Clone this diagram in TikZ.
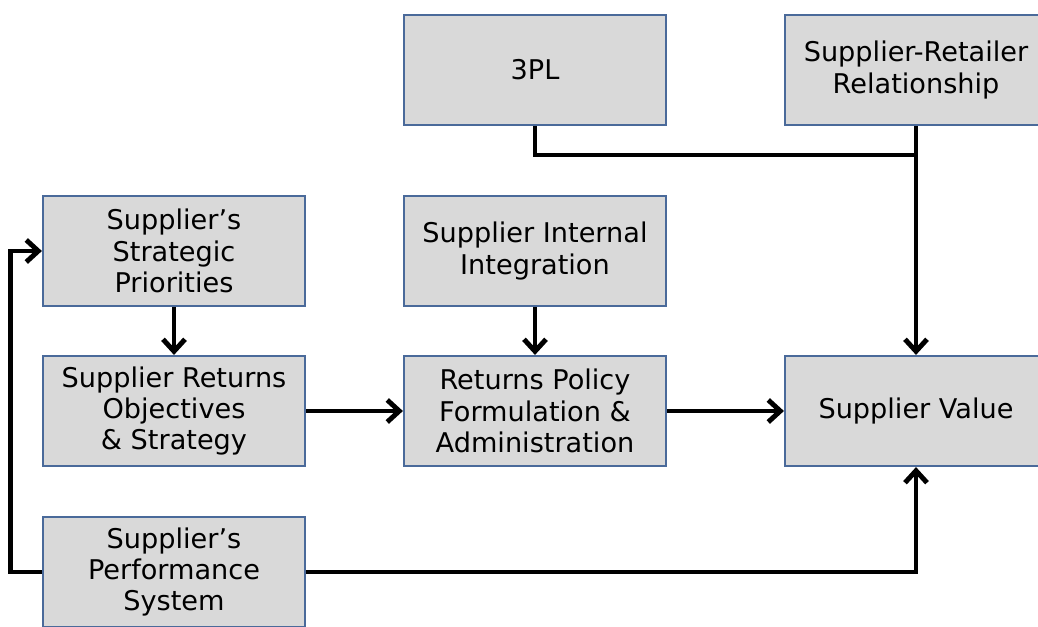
\documentclass[tikz,border=0pt]{standalone}
\usepackage{fontspec}
\setmainfont{DejaVu Sans}
\usetikzlibrary{arrows.meta}
\definecolor{boxfill}{HTML}{D9D9D9}
\definecolor{boxline}{HTML}{4A6A9A}
\tikzstyle{block}=[draw=boxline, fill=boxfill, line width=1.5pt, minimum width=6.55cm, minimum height=2.75cm, align=center, inner sep=0pt, font=\fontsize{19.3}{22.3}\selectfont]
\tikzstyle{link}=[draw=black, line width=3.5pt]
\tikzstyle{flow}=[link, -{Straight Barb[length=3mm,width=5.5mm]}]

\begin{document}
\begin{tikzpicture}[x=0.025cm,y=-0.025cm]
\useasboundingbox (0,0) rectangle (1038,626);
% top row
\node[block] (tpl) at (535,70) {3PL};
\node[block] (srr) at (916,70) {Supplier-Retailer\\Relationship};
% second row
\node[block] (priorities) at (174,251) {Supplier’s\\Strategic\\Priorities};
\node[block] (integration) at (535,251) {Supplier Internal\\Integration};
% third row
\node[block] (objectives) at (174,411) {Supplier Returns\\Objectives\\\& Strategy};
\node[block] (policy) at (535,411) {Returns Policy\\Formulation \&\\Administration};
\node[block] (value) at (916,411) {Supplier Value};
% bottom row
\node[block] (performance) at (174,572) {Supplier’s\\Performance\\System};
\coordinate (join) at (916,155);
\draw[link] (tpl.south) |- (join);
\draw[flow] (srr.south) -- (value.north);
\draw[flow] (priorities.south) -- (objectives.north);
\draw[flow] (integration.south) -- (policy.north);
\draw[flow] (objectives.east) -- (policy.west);
\draw[flow] (policy.east) -- (value.west);
\draw[flow] (performance.west) -- ++(-31,0) |- (priorities.west);
\draw[flow] (performance.east) -| (value.south);
\end{tikzpicture}
\end{document}
